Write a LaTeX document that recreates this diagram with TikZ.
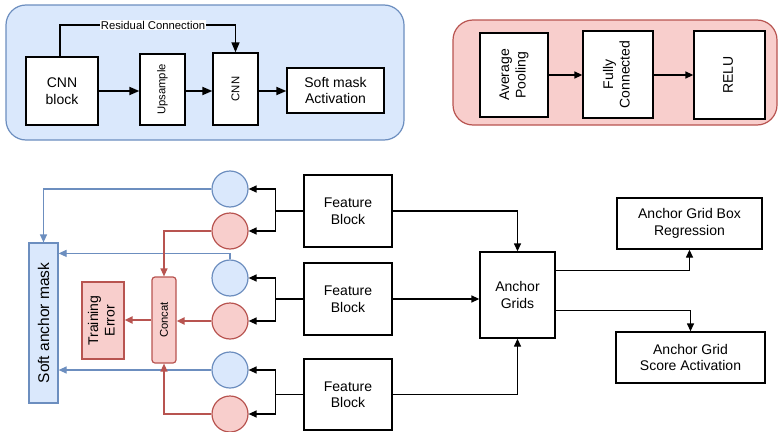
\documentclass[tikz,border=0pt]{standalone}
\usepackage{fontspec}
\setmainfont{Liberation Sans}
\usetikzlibrary{arrows.meta,calc}
\definecolor{bfill}{HTML}{DAE8FC}
\definecolor{bdraw}{HTML}{6C8EBF}
\definecolor{rfill}{HTML}{F8CECC}
\definecolor{rdraw}{HTML}{B85450}
\newcommand\fmain{\fontsize{14}{16.5}\selectfont}
\newcommand\fsm{\fontsize{11.3}{13}\selectfont}
\newcommand\fmask{\fontsize{15.5}{18}\selectfont}
\newcommand\rtext[1]{\rotatebox{90}{\begin{tabular}{@{}c@{}}#1\end{tabular}}}
\begin{document}
\begin{tikzpicture}[x=1pt,y=-1pt,
  box/.style={draw=black, fill=white, line width=1.3pt, inner sep=0pt, align=center, font=\fmain},
  panelb/.style={draw=bdraw, fill=bfill, line width=1.2pt, rounded corners=20pt},
  panelr/.style={draw=rdraw, fill=rfill, line width=1.2pt, rounded corners=20pt},
  bcirc/.style={circle, draw=bdraw, fill=bfill, line width=1.2pt, minimum size=36pt, inner sep=0pt},
  rcirc/.style={circle, draw=rdraw, fill=rfill, line width=1.2pt, minimum size=36pt, inner sep=0pt},
  arr/.style={line width=1.3pt, -{Triangle[length=8pt,width=7pt]}},
  tarr/.style={line width=1.8pt, -{Triangle[length=10pt,width=8pt]}},
  barr/.style={color=bdraw, line width=1.2pt, -{Triangle[length=8pt,width=7pt]}},
  rarr/.style={color=rdraw, line width=1.2pt, -{Triangle[length=8pt,width=7pt]}},
  rarrt/.style={color=rdraw, line width=2pt, -{Triangle[length=8pt,width=7pt]}},
  plain/.style={line width=1.3pt}
]
\useasboundingbox (0,0) rectangle (779,431);

% ---------- top-left panel ----------
\draw[panelb] (6,5) rectangle (404,140);
\node[box, minimum width=72pt, minimum height=68pt] (cnnb) at (62,91) {CNN\\block};
\node[box, minimum width=45pt, minimum height=71pt] (ups) at (162.5,89.5) {\fsm\rotatebox{90}{Upsample}};
\node[box, minimum width=45pt, minimum height=72pt] (cnn2) at (235.5,89) {\fsm\rotatebox{90}{CNN}};
\node[box, minimum width=97pt, minimum height=45pt] (smact) at (335.5,90.5) {Soft mask\\Activation};
\draw[tarr] (cnnb.east) -- (cnnb.east -| ups.west);
\draw[tarr] (ups.east |- cnnb.east) -- (cnnb.east -| cnn2.west);
\draw[tarr] (cnn2.east |- cnnb.east) -- (cnnb.east -| smact.west);
\draw[line width=1.5pt, -{Triangle[length=10pt,width=8pt]}] (cnnb.north -| 60,0) -- (60,25) -| (cnn2.north);
\node[fill=white, inner sep=0.8pt, font=\fsm] (res) at (153,25) {Residual Connection};

% ---------- top-right panel ----------
\draw[panelr] (453,20) rectangle (777,125);
\node[box, minimum width=68pt, minimum height=84pt] (avg) at (514,75) {\rtext{Average\\Pooling}};
\node[box, minimum width=70pt, minimum height=87pt] (fc) at (618,74.5) {\rtext{Fully\\Connected}};
\node[box, minimum width=71pt, minimum height=88pt] (relu) at (729.5,75) {\rtext{RELU}};
\draw[arr] (avg.east) -- (avg.east -| fc.west);
\draw[arr] (fc.east |- avg.east) -- (avg.east -| relu.west);

% ---------- bottom ----------
\node[bcirc] (b1) at (230,189) {};
\node[rcirc] (r1) at (230,231) {};
\node[bcirc] (b2) at (230,278) {};
\node[rcirc] (r2) at (230,321) {};
\node[bcirc] (b3) at (230,370) {};
\node[rcirc] (r3) at (230,414) {};

\node[box, minimum width=88pt, minimum height=72pt] (fb1) at (348,211) {Feature\\Block};
\node[box, minimum width=88pt, minimum height=72pt] (fb2) at (348,299) {Feature\\Block};
\node[box, minimum width=88pt, minimum height=71pt] (fb3) at (348,394.5) {Feature\\Block};
\node[box, minimum width=75pt, minimum height=86pt] (ag) at (517.5,295) {Anchor\\Grids};
\node[box, minimum width=145pt, minimum height=51pt] (agbr) at (689.5,223.5) {Anchor Grid Box\\Regression};
\node[box, minimum width=149pt, minimum height=51pt] (agsa) at (690.5,357.5) {Anchor Grid\\Score Activation};

\node[draw=bdraw, fill=bfill, line width=1.2pt, inner sep=0pt, minimum width=29pt, minimum height=160pt, font=\fmask] (mask) at (43.5,323) {\rotatebox{90}{Soft anchor mask}};
\node[draw=rdraw, fill=rfill, line width=1.2pt, rounded corners=3pt, inner sep=0pt, minimum width=24pt, minimum height=86pt, font=\fsm] (concat) at (164,320) {\rotatebox{90}{Concat}};
\node[draw=rdraw, fill=rfill, line width=1.2pt, inner sep=0pt, minimum width=42pt, minimum height=77pt, font=\fmain] (terr) at (103,320.5) {\rtext{Training\\Error}};

% feature blocks to circles
\coordinate (j1) at ($(fb1.west)+(-28,0)$);
\coordinate (j2) at ($(fb2.west)+(-28,0)$);
\coordinate (j3) at ($(fb3.west)+(-28,0)$);
\draw[plain] (fb1.west) -- (j1);
\draw[plain] (fb2.west) -- (j2);
\draw[plain] (fb3.west) -- (j3);
\draw[arr] (j1) |- (b1.east);
\draw[arr] (j1) |- (r1.east);
\draw[arr] (j2) |- (b2.east);
\draw[arr] (j2) |- (r2.east);
\draw[arr] (j3) |- (b3.east);
\draw[arr] (j3) |- (r3.east);

% blue to mask
\draw[barr] (b1.west) -| (mask.north);
\draw[barr] (b2.north) -- ++(0,-6) coordinate (t2) -- (t2 -| mask.east);
\draw[barr] (b3.west) -- (b3.west -| mask.east);

% red to concat
\draw[rarr] (r1.west) -| (concat.north);
\draw[rarrt] (r2.west) -- (r2.west -| concat.east);
\draw[rarr] (r3.west) -| (concat.south);
\draw[rarrt] (concat.west) -- (concat.west -| terr.east);

% feature blocks to anchor grids
\draw[arr] (fb1.east) -| (ag.north);
\draw[arr] (fb2.east) -- (fb2.east -| ag.west);
\draw[arr] (fb3.east) -| (ag.south);
\draw[arr] ($(ag.north east)+(0,19)$) -| (agbr.south);
\draw[arr] ($(ag.north east)+(0,59)$) -| (agsa.north);
\end{tikzpicture}
\end{document}
